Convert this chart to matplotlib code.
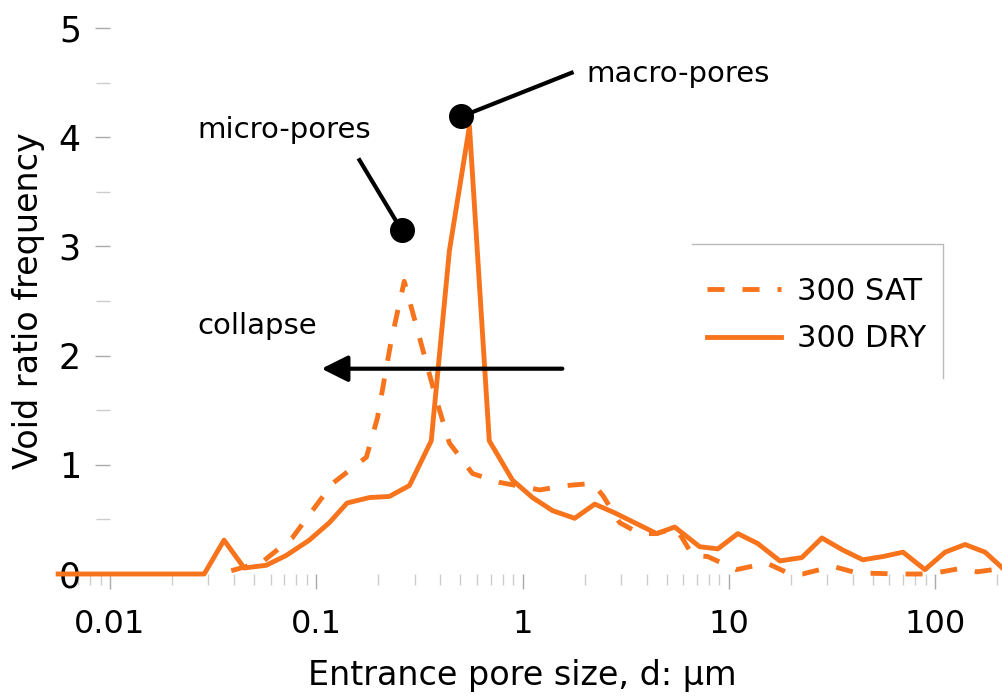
import numpy as np
import matplotlib.pyplot as plt
from matplotlib.ticker import LogLocator, MultipleLocator, FixedLocator, NullFormatter

plt.rcParams['font.family'] = ['DejaVu Sans']

ORANGE = '#F7731C'

# 300 DRY (solid)
dry_d = [0.0056, 0.0286, 0.0357, 0.0447, 0.0572, 0.0715, 0.0925, 0.1157, 0.141,
         0.181, 0.226, 0.283, 0.361, 0.442, 0.553, 0.69, 0.894, 1.118, 1.40,
         1.79, 2.24, 2.80, 4.47, 5.47, 7.23, 8.85, 11.07, 13.8, 17.7, 22.6,
         28.3, 35.7, 44.7, 56.0, 70.0, 89.4, 112, 140, 175, 211]
dry_e = [0.0, 0.0, 0.31, 0.055, 0.08, 0.17, 0.31, 0.47, 0.65,
         0.70, 0.71, 0.81, 1.22, 2.96, 4.10, 1.22, 0.86, 0.70, 0.58,
         0.51, 0.64, 0.56, 0.37, 0.43, 0.25, 0.23, 0.37, 0.28, 0.12, 0.15,
         0.33, 0.22, 0.13, 0.16, 0.20, 0.04, 0.20, 0.27, 0.20, 0.06]

# 300 SAT (dashed)
sat_d = [0.0387, 0.0547, 0.0764, 0.12, 0.175, 0.198, 0.231, 0.267, 0.383,
         0.442, 0.572, 0.77, 1.21, 1.64, 2.19, 2.45, 2.96, 3.70, 4.47, 5.47,
         5.9, 6.69, 7.9, 10.9, 15.3, 19.8, 22.8, 32.0, 41.8, 67.6, 94.5,
         132, 160, 211]
sat_e = [0.03, 0.11, 0.33, 0.83, 1.07, 1.43, 2.14, 2.68, 1.59,
         1.20, 0.92, 0.84, 0.77, 0.81, 0.83, 0.72, 0.47, 0.37, 0.37, 0.42,
         0.34, 0.17, 0.16, 0.04, 0.10, 0.0, 0.0, 0.07, 0.01, 0.0, 0.0,
         0.05, 0.02, 0.05]

fig = plt.figure(figsize=(10.03, 7.0), dpi=100)
ax = fig.add_axes([0.0578, 0.18, 0.9422, 0.78])

ax.plot(sat_d, sat_e, color=ORANGE, lw=3.5, dashes=(3.5, 3.7), label='300 SAT', clip_on=False)
ax.plot(dry_d, dry_e, color=ORANGE, lw=3.5, label='300 DRY', clip_on=False)

ax.set_xscale('log')
ax.set_xlim(0.00559, 213.8)
ax.set_ylim(0, 5)

for s in ax.spines.values():
    s.set_visible(False)
ax.spines['left'].set_position(('data', 0.01))

ax.xaxis.set_major_locator(FixedLocator([0.01, 0.1, 1, 10, 100]))
ax.set_xticklabels(['0.01', '0.1', '1', '10', '100'])
ax.xaxis.set_minor_locator(LogLocator(base=10, subs=np.arange(2, 10)))
ax.xaxis.set_minor_formatter(NullFormatter())
ax.yaxis.set_major_locator(MultipleLocator(1))
ax.yaxis.set_minor_locator(MultipleLocator(0.5))

ax.tick_params(axis='x', which='major', length=11, width=1, color='#aaaaaa', pad=14, labelsize=23)
ax.tick_params(axis='x', which='minor', length=8, width=1, color='#cccccc')
ax.tick_params(axis='y', which='major', length=11, width=1, color='#aaaaaa', pad=10, labelsize=25)
ax.tick_params(axis='y', which='minor', length=10, width=1, color='#cccccc')

ax.set_xlabel('Entrance pore size, d: \u03bcm', fontsize=24)
ax.xaxis.set_label_coords(0.491, -0.155)
ax.set_ylabel('Void ratio frequency', fontsize=24)
ax.yaxis.set_label_coords(-0.014, 0.5)

# annotations
ax.plot([0.506, 1.73], [4.19, 4.59], color='black', lw=3)
ax.plot([0.506], [4.19], 'o', color='black', ms=17)
ax.text(2.05, 4.58, 'macro-pores', fontsize=21, va='center', ha='left')

ax.plot([0.259, 0.162], [3.15, 3.79], color='black', lw=3)
ax.plot([0.259], [3.15], 'o', color='black', ms=17)
ax.text(0.0264, 4.07, 'micro-pores', fontsize=21, va='center', ha='left')

ax.annotate('', xy=(0.106, 1.88), xytext=(1.56, 1.88),
            arrowprops=dict(arrowstyle='-|>', lw=3, color='black', mutation_scale=40,
                            shrinkA=0, shrinkB=0))
ax.text(0.0264, 2.27, 'collapse', fontsize=21, va='center', ha='left')

ax.legend(loc='center left', bbox_to_anchor=(0.658, 0.474), frameon=False, fontsize=22,
          handlelength=2.4, handletextpad=0.55, labelspacing=0.6)
ax.plot([0.671, 0.9365, 0.9365], [0.604, 0.604, 0.359], color='#bbbbbb', lw=1,
        transform=ax.transAxes, clip_on=False)

fig.savefig('out.png', dpi=100)
